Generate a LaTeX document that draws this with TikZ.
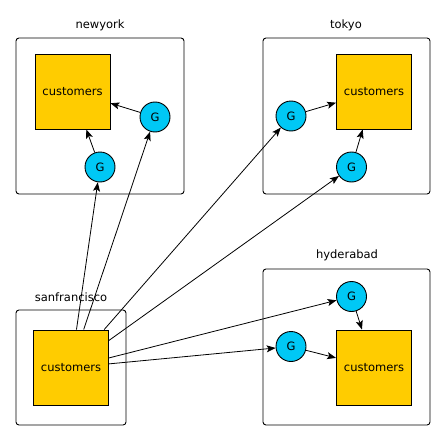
\documentclass[tikz,border=0pt]{standalone}
\usepackage{fontspec}
\setmainfont{DejaVu Sans}
\usetikzlibrary{arrows.meta}
\definecolor{custfill}{RGB}{255,204,0}
\definecolor{gfill}{RGB}{0,200,245}
\begin{document}
\begin{tikzpicture}[x=1pt,y=-1pt,
  cluster/.style={draw=black,line width=0.9pt,rounded corners=3pt},
  clabel/.style={font=\fontsize{11.5}{13}\selectfont},
  cust/.style={draw=black,fill=custfill,line width=0.9pt,minimum width=75pt,minimum height=75pt,inner sep=0pt,font=\fontsize{11.5}{13}\selectfont},
  gnode/.style={draw=black,fill=gfill,circle,line width=0.9pt,minimum size=30pt,inner sep=0pt,font=\fontsize{11.5}{13}\selectfont},
  arr/.style={-{Stealth[length=9pt,width=7pt,inset=2pt]},line width=0.8pt}]
\useasboundingbox (0,0) rectangle (446,441);
% clusters
\draw[cluster] (16,38) rectangle (184,194);
\node[clabel] (lny) at (100,25) {newyork};
\draw[cluster] (263,38) rectangle (430,194);
\node[clabel] (ltk) at (346,25) {tokyo};
\draw[cluster] (16,310) rectangle (126,425);
\node[clabel] (lsf) at (71,297) {sanfrancisco};
\draw[cluster] (263,269) rectangle (430,425);
\node[clabel] (lhy) at (347,255) {hyderabad};
% nodes
\node[cust] (nyc) at (72.5,91.5) {customers};
\node[gnode] (nyg1) at (100,167) {G};
\node[gnode] (nyg2) at (155,117) {G};
\node[cust] (tkc) at (374,91.5) {customers};
\node[gnode] (tkg1) at (291,116) {G};
\node[gnode] (tkg2) at (351.5,167) {G};
\node[cust] (sfc) at (71,367.5) {customers};
\node[cust] (hyc) at (374,367.5) {customers};
\node[gnode] (hyg1) at (351.5,296.5) {G};
\node[gnode] (hyg2) at (291,346.5) {G};
% edges
\draw[arr] (nyg1) -- (nyc);
\draw[arr] (nyg2) -- (nyc);
\draw[arr] (tkg1) -- (tkc);
\draw[arr] (tkg2) -- (tkc);
\draw[arr] (hyg1) -- (hyc);
\draw[arr] (hyg2) -- (hyc);
\draw[arr] (sfc) -- (nyg1);
\draw[arr] (sfc) -- (nyg2);
\draw[arr] (sfc) -- (tkg1);
\draw[arr] (sfc) -- (tkg2);
\draw[arr] (sfc) -- (hyg1);
\draw[arr] (sfc) -- (hyg2);
\end{tikzpicture}
\end{document}
